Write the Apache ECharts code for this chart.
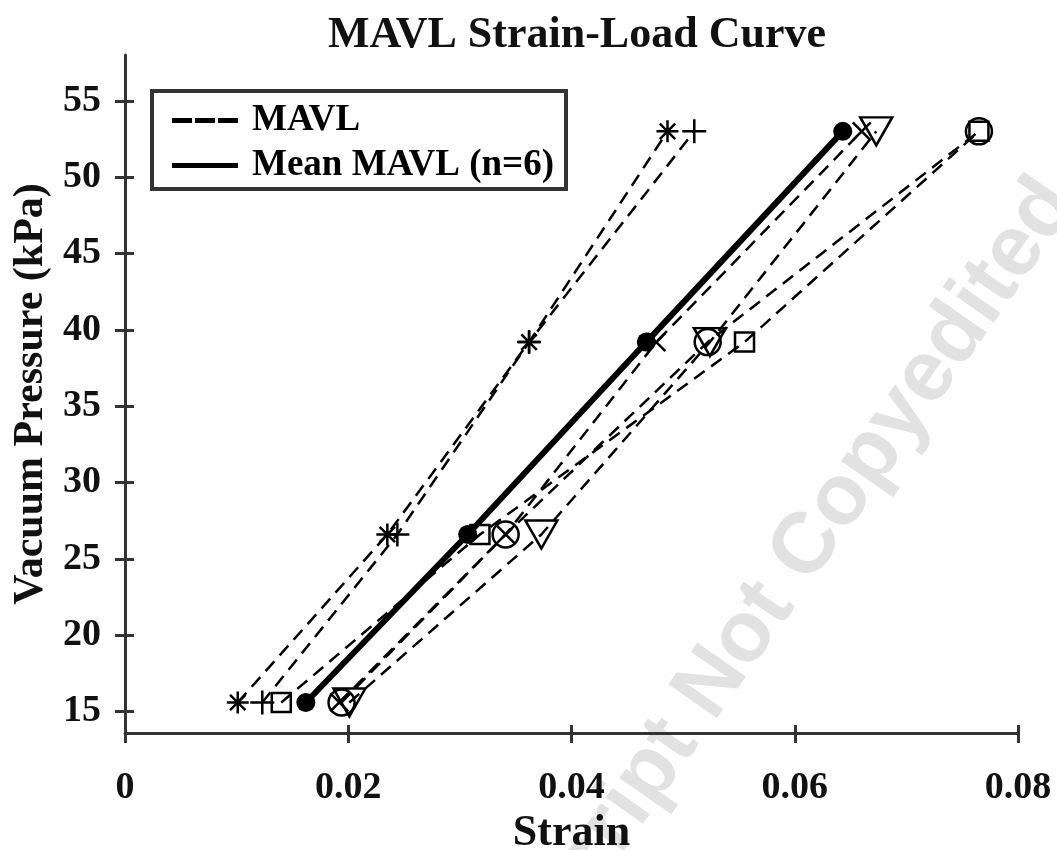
<!DOCTYPE html>
<html>
<head>
<meta charset="utf-8">
<script src="https://cdn.jsdelivr.net/npm/echarts@6/dist/echarts.min.js"></script>
<style>
  html, body { margin: 0; padding: 0; background: #fff; }
  #main { width: 1057px; height: 850px; }
</style>
</head>
<body>
<div id="main"></div>
<script>
// vacuum pressure levels (kPa), shared by every specimen
const pressure = [15.6, 26.6, 39.2, 53.0]
// strain of each MAVL specimen at those levels
const strainStar = [0.0101, 0.0235, 0.0362, 0.0486]
const strainPlus = [0.0123, 0.0244, 0.0362, 0.0510]
const strainSquare = [0.0140, 0.0318, 0.0555, 0.0765]
const strainCircle = [0.0194, 0.0341, 0.0522, 0.0765]
const strainCross = [0.0192, 0.0341, 0.0476, 0.0660]
const strainTriangle = [0.0201, 0.0373, 0.0524, 0.0673]
// mean of the six specimens
const strainMean = [0.0162, 0.0307, 0.0467, 0.0643]
// y tick labels
const pressureTicks = [15, 20, 25, 30, 35, 40, 45, 50, 55]

const FONT = '"Liberation Serif", "Times New Roman", serif'

const pairs = (xs) => xs.map((x, i) => [x, pressure[i]])

const hollow = { color: 'transparent', borderColor: '#000', borderWidth: 2.5 }

// 每条试样的虚线
const specimen = (name, data, symbol, size, extra) => ({
  name,
  type: 'line',
  data: pairs(data),
  symbol,
  symbolSize: size,
  lineStyle: { color: '#000', width: 2.5, type: [13, 8] },
  itemStyle: hollow,
  z: 3,
  ...extra,
})

const chart = echarts.init(document.getElementById('main'))
chart.setOption({
  animation: false,
  backgroundColor: '#fff',
  title: {
    text: 'MAVL Strain-Load Curve',
    left: 572,
    top: 9,
    textAlign: 'center',
    textStyle: { fontFamily: FONT, fontWeight: 'bold', fontSize: 44, color: '#111' },
  },
  graphic: [{
    type: 'text',
    z: -10,
    x: 620,
    y: 815,
    rotation: 55 * Math.PI / 180,
    style: {
      text: 'Accepted Manuscript Not Copyedited',
      fill: '#e2e2e2',
      font: 'bold 86px "Liberation Sans", Arial, sans-serif',
      textAlign: 'center',
      textVerticalAlign: 'middle',
    },
  }],
  legend: {
    orient: 'vertical',
    left: 152,
    top: 91,
    data: [
      { name: 'MAVL', icon: 'path://M0,0H20V5H0Z M23,0H43V5H23Z M46,0H66V5H46Z' },
      { name: 'Mean MAVL (n=6)', icon: 'path://M0,0H66V5H0Z' },
    ],
    itemWidth: 66,
    itemHeight: 5,
    itemGap: 8,
    itemTextGap: 15,
    padding: [11, 12, 5, 20],
    borderColor: '#333',
    borderWidth: 4,
    backgroundColor: '#fff',
    itemStyle: { color: '#000', borderWidth: 0 },
    textStyle: {
      fontFamily: FONT, fontWeight: 'bold', fontSize: 37, color: '#000',
      padding: [0, 0, 0, 9],
    },
  },
  grid: { left: 125, right: 39, top: 55, bottom: 117, outerBoundsMode: 'none' },
  xAxis: [{
    type: 'value',
    min: 0,
    max: 0.08,
    interval: 0.02,
    name: 'Strain',
    nameLocation: 'middle',
    nameGap: 74,
    nameTextStyle: { fontFamily: FONT, fontWeight: 'bold', fontSize: 44, color: '#111' },
    splitLine: { show: false },
    axisLine: { lineStyle: { color: '#333', width: 3 } },
    axisTick: { length: 10, lineStyle: { color: '#333', width: 3 } },
    axisLabel: { margin: 36, fontFamily: FONT, fontWeight: 'bold', fontSize: 38, color: '#111' },
  }, {
    type: 'value',
    min: 0,
    max: 0.08,
    interval: 0.02,
    position: 'bottom',
    splitLine: { show: false },
    axisLine: { show: false },
    axisTick: { inside: true, length: 8, lineStyle: { color: '#333', width: 3 } },
    axisLabel: { show: false },
  }],
  yAxis: [{
    type: 'value',
    min: 13.6,
    max: 58,
    name: 'Vacuum Pressure (kPa)',
    nameLocation: 'middle',
    nameGap: 60,
    nameTextStyle: { fontFamily: FONT, fontWeight: 'bold', fontSize: 42, color: '#111' },
    splitLine: { show: false },
    axisLine: { lineStyle: { color: '#333', width: 3 } },
    axisTick: { length: 10, customValues: pressureTicks, lineStyle: { color: '#333', width: 3 } },
    axisLabel: {
      margin: 24,
      customValues: pressureTicks,
      fontFamily: FONT, fontWeight: 'bold', fontSize: 38, color: '#111',
    },
  }, {
    type: 'value',
    min: 13.6,
    max: 58,
    position: 'left',
    splitLine: { show: false },
    axisLine: { show: false },
    axisTick: { inside: true, length: 9, customValues: pressureTicks, lineStyle: { color: '#333', width: 3 } },
    axisLabel: { show: false, customValues: pressureTicks },
  }],
  series: [
    // 图例专用的空系列
    { name: 'MAVL', type: 'line', data: [], symbol: 'none', itemStyle: { color: '#000' } },
    { name: 'Mean MAVL (n=6)', type: 'line', data: [], symbol: 'none', itemStyle: { color: '#000' } },
    specimen('s1', strainStar, 'path://M10,0V20M0,10H20M3,3L17,17M17,3L3,17', 22),
    specimen('s2', strainPlus, 'path://M10,0V20M0,10H20', 24),
    specimen('s3', strainSquare, 'rect', 19),
    specimen('s4', strainCircle, 'circle', 26),
    specimen('s5', strainCross, 'path://M0,0L20,20M20,0L0,20', 18),
    specimen('s6', strainTriangle, 'triangle', [32, 28], { symbolRotate: 180 }),
    {
      name: 'mean',
      type: 'line',
      data: pairs(strainMean),
      symbol: 'circle',
      symbolSize: 19,
      lineStyle: { color: '#000', width: 6 },
      itemStyle: { color: '#000' },
      z: 5,
    },
  ],
})
</script>
</body>
</html>
